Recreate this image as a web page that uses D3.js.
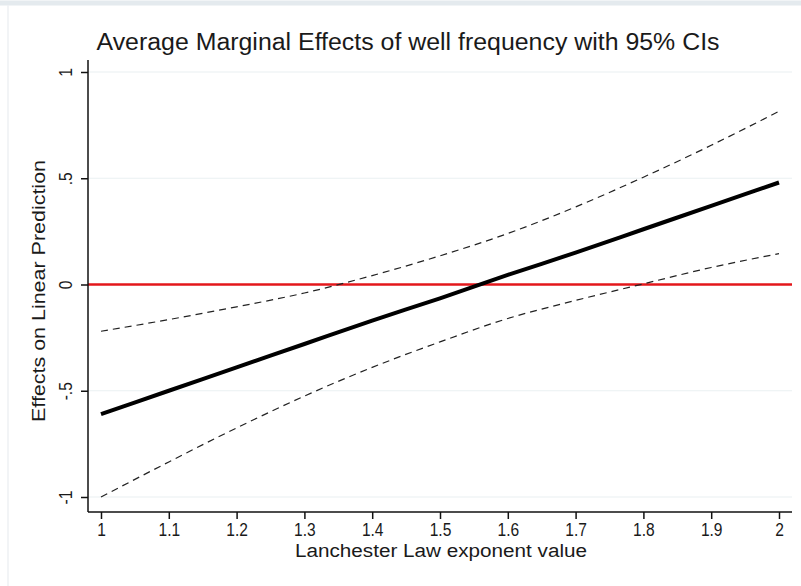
<!DOCTYPE html>
<html>
<head>
<meta charset="utf-8">
<script src="https://cdn.jsdelivr.net/npm/d3@7"></script>
<style>
  body { margin: 0; background: #fff; }
  svg text { font-family: "Liberation Sans Narrow", "Liberation Sans", Arial, sans-serif; fill: #1a1a1a; }
</style>
</head>
<body>
<div id="chart"></div>
<script>
// values
const xVals = [1, 1.1, 1.2, 1.3, 1.4, 1.5, 1.6, 1.7, 1.8, 1.9, 2];
const meanVals = [-0.61, -0.50, -0.39, -0.28, -0.17, -0.065, 0.045, 0.15, 0.26, 0.37, 0.48];
const upperVals = [-0.22, -0.165, -0.105, -0.04, 0.042, 0.135, 0.24, 0.365, 0.505, 0.655, 0.815];
const lowerVals = [-1.0, -0.835, -0.675, -0.525, -0.39, -0.27, -0.16, -0.075, 0.003, 0.08, 0.145];
const yTicks = [-1, -0.5, 0, 0.5, 1];
const yTickLabels = ["-1", "-.5", "0", ".5", "1"];
const xTicks = [1, 1.1, 1.2, 1.3, 1.4, 1.5, 1.6, 1.7, 1.8, 1.9, 2];

const W = 801, H = 586;
const svg = d3.select("#chart").append("svg")
  .attr("width", W).attr("height", H);

// faint outer frame
svg.append("line").attr("x1", 0).attr("x2", W).attr("y1", 3).attr("y2", 3)
  .attr("stroke", "#e4eaee").attr("stroke-width", 5);
svg.append("line").attr("x1", 8).attr("x2", 8).attr("y1", 5).attr("y2", H)
  .attr("stroke", "#eef1f3").attr("stroke-width", 1.5);

const plotLeft = 88, plotRight = 792, plotTop = 60, plotBottom = 512;

const x = d3.scaleLinear().domain([1, 2]).range([101, 779]);
const y = d3.scaleLinear().domain([-1, 1]).range([497, 72]);

// gridlines
svg.append("g").selectAll("line").data(yTicks).join("line")
  .attr("x1", plotLeft).attr("x2", plotRight)
  .attr("y1", d => y(d)).attr("y2", d => y(d))
  .attr("stroke", "#eaf0f2").attr("stroke-width", 1.2);

// reference line at zero
svg.append("line")
  .attr("x1", plotLeft).attr("x2", plotRight)
  .attr("y1", y(0)).attr("y2", y(0))
  .attr("stroke", "#e3171b").attr("stroke-width", 2.6);

const rows = xVals.map((v, i) => ({x: v, m: meanVals[i], u: upperVals[i], l: lowerVals[i]}));

const lineOf = key => d3.line().x(d => x(d.x)).y(d => y(d[key])).curve(d3.curveMonotoneX);

svg.append("path").datum(rows)
  .attr("d", lineOf("u"))
  .attr("fill", "none").attr("stroke", "#222").attr("stroke-width", 1.2)
  .attr("stroke-dasharray", "7,5");
svg.append("path").datum(rows)
  .attr("d", lineOf("l"))
  .attr("fill", "none").attr("stroke", "#222").attr("stroke-width", 1.2)
  .attr("stroke-dasharray", "7,5");
svg.append("path").datum(rows)
  .attr("d", lineOf("m"))
  .attr("fill", "none").attr("stroke", "#000").attr("stroke-width", 4);

// axes
const yAxis = d3.axisLeft(y).tickValues(yTicks).tickSize(7).tickPadding(4)
  .tickFormat((d, i) => yTickLabels[i]);
const gy = svg.append("g").attr("transform", `translate(${plotLeft},0)`).call(yAxis);
gy.select(".domain").attr("d", `M0,${plotTop}V${plotBottom}`).attr("stroke", "#111").attr("stroke-width", 1.5);
gy.selectAll(".tick line").attr("stroke", "#111").attr("stroke-width", 1.5);
gy.selectAll(".tick text")
  .attr("transform", "rotate(-90) scale(0.82,1)")
  .attr("x", 0).attr("y", -16)
  .attr("dy", "0")
  .attr("text-anchor", "middle")
  .style("font-size", "19px");

const xAxis = d3.axisBottom(x).tickValues(xTicks).tickSize(7).tickPadding(4)
  .tickFormat(d3.format("~g"));
const gx = svg.append("g").attr("transform", `translate(0,${plotBottom})`).call(xAxis);
gx.select(".domain").attr("d", `M${plotLeft},0H${plotRight}`).attr("stroke", "#111").attr("stroke-width", 1.5);
gx.selectAll(".tick line").attr("stroke", "#111").attr("stroke-width", 1.5);
gx.selectAll(".tick text")
  .attr("transform", "scale(0.82,1)")
  .style("font-size", "19px");

// titles
svg.append("text")
  .attr("x", 408).attr("y", 50)
  .attr("text-anchor", "middle")
  .attr("textLength", 623).attr("lengthAdjust", "spacingAndGlyphs")
  .style("font-size", "23px")
  .text("Average Marginal Effects of well frequency with 95% CIs");

svg.append("text")
  .attr("transform", `translate(45,${(plotTop + plotBottom) / 2 + 5}) rotate(-90)`)
  .attr("text-anchor", "middle")
  .attr("textLength", 262).attr("lengthAdjust", "spacingAndGlyphs")
  .style("font-size", "18px")
  .text("Effects on Linear Prediction");

svg.append("text")
  .attr("x", 441).attr("y", 557)
  .attr("text-anchor", "middle")
  .attr("textLength", 292).attr("lengthAdjust", "spacingAndGlyphs")
  .style("font-size", "18px")
  .text("Lanchester Law exponent value");
</script>
</body>
</html>
